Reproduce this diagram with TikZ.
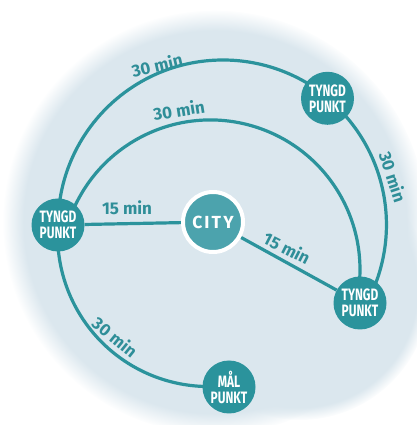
\documentclass[tikz,border=0pt]{standalone}
\usepackage{fontspec}
\setmainfont{Fira Sans}
\newfontfamily\condfont{Fira Sans}[FakeStretch=0.72]
\newfontfamily\cityfont{Fira Sans}[LetterSpace=12]
\usetikzlibrary{fadings}
\definecolor{bgc}{RGB}{219,231,238}
\definecolor{routec}{RGB}{43,147,156}
\definecolor{citycol}{RGB}{76,163,173}
\definecolor{labelcol}{RGB}{47,142,152}
\pgfdeclarelayer{bgl}
\pgfdeclarelayer{lines}
\pgfsetlayers{bgl,lines,main}
\begin{document}
\begin{tikzpicture}[x=1pt,y=1pt,
  hub/.style={circle, fill=routec, minimum size=53pt, inner sep=0pt, text=white,
    font=\condfont\bfseries\fontsize{16.5}{16}\selectfont, align=center},
  citynode/.style={circle, fill=citycol, draw=white, line width=4pt, minimum size=60pt,
    inner sep=0pt, text=white, font=\cityfont\bfseries\fontsize{17.5}{17}\selectfont},
  route/.style={draw=routec, line width=3.2pt},
  tlabel/.style={text=labelcol, font=\bfseries\fontsize{17}{17}\selectfont, inner sep=0pt}]
\useasboundingbox (0,0) rectangle (416,425);

% nodes
\node[hub] (L)  at (58,200)    {TYNGD\\PUNKT};
\node[hub] (TR) at (327.5,326.7) {TYNGD\\PUNKT};
\node[hub] (BR) at (360,122)   {TYNGD\\PUNKT};
\node[hub] (M)  at (229,38)    {MÅL\\PUNKT};
\node[citynode] (C) at (213,203) {CITY};

% labels
\node[tlabel, rotate=13]  (l1) at (157,360) {30 min};
\node[tlabel, rotate=9]   (l2) at (179,315) {30 min};
\node[tlabel]             (l3) at (127,217) {15 min};
\node[tlabel, rotate=-27] (l4) at (287,177) {15 min};
\node[tlabel, rotate=-72] (l5) at (393,248) {30 min};
\node[tlabel, rotate=-39] (l6) at (115,88)  {30 min};

% background
\begin{pgfonlayer}{bgl}
  \fill[bgc, path fading=circle with fuzzy edge 10 percent] (215,203) circle (212);
  \fill[bgc, path fading=circle with fuzzy edge 10 percent] (300,135) circle (130);
\end{pgfonlayer}

% connectors
\begin{pgfonlayer}{lines}
  \draw[route] (L.center) arc[start angle=180, end angle=50, radius=165];
  \draw[route] (TR.center) arc[start angle=50, end angle=-28, radius=165];
  \draw[route] (L.center) ++(11.8,6.6) arc[start angle=160, end angle=-5, radius=149.6];
  \draw[route] (L.center) arc[start angle=176, end angle=275, radius=151];
  \draw[route] (L) -- (C);
  \draw[route] (C) -- (BR);
\end{pgfonlayer}
\end{tikzpicture}
\end{document}
